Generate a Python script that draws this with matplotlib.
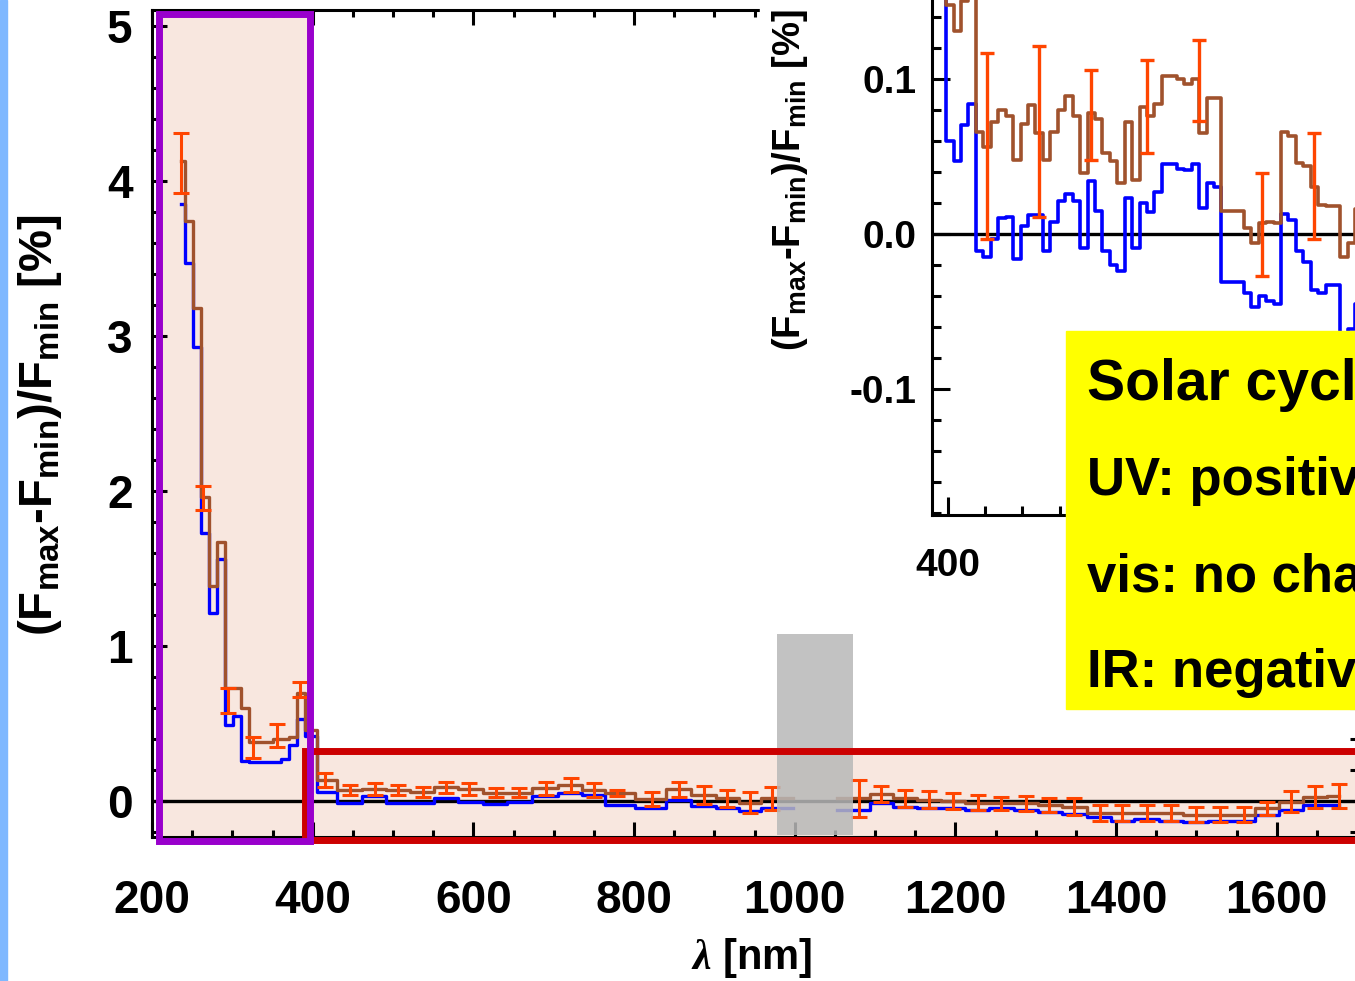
"""Solar cycle spectral irradiance variability: main spectrum plus zoomed inset."""
import numpy as np
import matplotlib
matplotlib.use("Agg")
import matplotlib.pyplot as plt
from matplotlib.patches import Rectangle
from matplotlib.ticker import MultipleLocator, FormatStrFormatter, FixedLocator, FixedFormatter

plt.rcParams["font.family"] = ["Liberation Sans", "DejaVu Sans"]
plt.rcParams["font.weight"] = "bold"
plt.rcParams["axes.unicode_minus"] = False
plt.rcParams["mathtext.fontset"] = "custom"
plt.rcParams["mathtext.rm"] = "Liberation Sans:bold"
plt.rcParams["mathtext.bf"] = "Liberation Sans:bold"
plt.rcParams["mathtext.it"] = "Liberation Serif:italic"

# ---- main panel: UV part (10 nm bins) ----
uv_wl = [236, 246, 256, 266, 276, 286, 296, 306, 316, 326, 336, 346, 356, 366, 376, 386, 396]
uv_brown = [4.13, 3.74, 3.18, 1.96, 1.39, 1.67, 0.73, 0.73, 0.60, 0.38, 0.38, 0.38, 0.40, 0.40, 0.41, 0.70, 0.46]
uv_blue = [3.85, 3.47, 2.93, 1.73, 1.21, 1.56, 0.49, 0.55, 0.26, 0.25, 0.25, 0.25, 0.25, 0.27, 0.36, 0.53, 0.42]
uv_err_wl = [236, 264, 294, 326, 356, 384]
uv_err_mid = [4.115, 1.955, 0.65, 0.345, 0.425, 0.72]
uv_err_half = [0.195, 0.075, 0.08, 0.065, 0.075, 0.05]

# ---- main panel: visible and IR (binned, error bars at every bin) ----
vis_wl = [415, 446, 477, 506, 537, 566, 595, 628, 657, 690, 721, 750, 779, 823, 856, 887, 916, 945, 972]
vis_brown = [0.135, 0.071, 0.078, 0.071, 0.06, 0.088, 0.077, 0.055, 0.055, 0.082, 0.103, 0.071,
             0.05, 0.012, 0.077, 0.04, 0.017, -0.01, 0.017]
vis_half = [0.043, 0.032, 0.04, 0.032, 0.032, 0.038, 0.038, 0.027, 0.027, 0.043, 0.043, 0.043,
            0.02, 0.045, 0.048, 0.06, 0.054, 0.07, 0.075]
vis_blue = [0.06, -0.01, 0.03, -0.015, -0.01, 0.02, -0.005, -0.02, -0.005, 0.03, 0.05, 0.04,
            -0.025, -0.045, 0.005, -0.035, -0.045, -0.065, -0.045]

ir_wl = [1080, 1107, 1137, 1167, 1197, 1228, 1257, 1288, 1317, 1348, 1380, 1408, 1438, 1468,
         1499, 1529, 1559, 1588, 1618, 1648, 1678]
ir_brown = [0.017, 0.045, 0.018, 0.007, 0.0, -0.01, -0.015, -0.015, -0.024, -0.037, -0.076, -0.076,
            -0.076, -0.076, -0.087, -0.087, -0.087, -0.048, -0.004, 0.024, 0.03]
ir_half = [0.12, 0.05, 0.055, 0.055, 0.05, 0.05, 0.044, 0.05, 0.046, 0.055, 0.05, 0.05, 0.05, 0.05,
           0.05, 0.05, 0.05, 0.045, 0.066, 0.07, 0.077]
ir_blue = [-0.06, -0.015, -0.037, -0.048, -0.048, -0.06, -0.048, -0.06, -0.07, -0.081, -0.104, -0.126,
           -0.115, -0.126, -0.137, -0.126, -0.13, -0.093, -0.06, -0.026, -0.026]

GAP_WL = 1025  # no data under the grey band

# ---- inset: 4 nm bins from 400 nm ----
inset_wl = [397, 401, 405, 409, 413, 417, 421, 425, 429, 433, 437, 441, 445, 449, 453, 457, 461, 465,
            469, 473, 477, 481, 485, 489, 493, 497, 501, 505, 509, 513, 517, 521, 525, 529, 533, 537,
            541, 545, 549, 553, 557, 561, 565, 569, 573, 577, 581, 585, 589, 593, 597, 601, 605, 609,
            613, 617, 621, 625]
inset_brown = [0.46, 0.148, 0.131, 0.150, 0.19, 0.066, 0.056, 0.072, 0.080, 0.076, 0.048, 0.071,
               0.083, 0.065, 0.048, 0.066, 0.080, 0.089, 0.076, 0.039, 0.078, 0.074, 0.052, 0.047,
               0.033, 0.072, 0.035, 0.082, 0.076, 0.084, 0.102, 0.102, 0.100, 0.097, 0.100, 0.065,
               0.088, 0.088, 0.015, 0.015, 0.015, 0.004, -0.006, 0.007, 0.008, 0.007, 0.066, 0.063,
               0.046, 0.044, 0.030, 0.019, 0.018, 0.018, -0.015, -0.006, 0.016, 0.02]
inset_blue = [0.42, 0.060, 0.047, 0.070, 0.084, -0.011, -0.015, -0.003, 0.010, 0.011, -0.016, 0.005,
              0.012, 0.012, -0.011, 0.008, 0.021, 0.026, 0.021, -0.009, 0.034, 0.015, -0.011, -0.020,
              -0.024, 0.023, -0.009, 0.020, 0.014, 0.027, 0.045, 0.045, 0.042, 0.041, 0.045, 0.017,
              0.033, 0.030, -0.031, -0.031, -0.031, -0.038, -0.047, -0.040, -0.043, -0.045, 0.013,
              0.009, -0.011, -0.018, -0.036, -0.038, -0.033, -0.033, -0.065, -0.061, -0.045, -0.05]
inset_err_wl = [421, 449, 477, 507, 535, 569, 597]
inset_err_mid = [0.057, 0.066, 0.077, 0.082, 0.099, 0.006, 0.031]
inset_err_half = [0.060, 0.055, 0.029, 0.030, 0.026, 0.033, 0.034]
inset_xticks = [400, 500, 600]
inset_xlabels = ["400", "", ""]  # the others sit under the summary box

summary_title = "Solar cycle:"
summary_lines = ["UV: positive", "vis: no change", "IR: negative"]

BLUE = "#0000FF"
BROWN = "#A0522D"
ORANGE = "#FF4500"
PURPLE = "#9900CC"
RED = "#CC0000"
STIPPLE = "#f8e7df"

W, H = 1355, 981


def fx(px):
    return px / W


def fy(py):
    return 1 - py / H


fig = plt.figure(figsize=(W / 100, H / 100), dpi=100)

# light blue slide edge
fig.add_artist(Rectangle((0, 0), fx(7), 1, transform=fig.transFigure, color="#7FB8FF", zorder=0))

ax = fig.add_axes([fx(152), fy(837), fx(1357) - fx(152), fy(10) - fy(837)], zorder=1)
ax.set_xlim(200, 1700)
ax.set_ylim(-0.232, 5.103)

# highlighted regions
ax.add_patch(Rectangle((390.5, -0.25), 1400, 0.57, facecolor=STIPPLE, edgecolor="none",
                       zorder=0.5, clip_on=False))
ax.add_patch(Rectangle((209, -0.26), 188, 5.34, facecolor=STIPPLE, edgecolor="none",
                       zorder=0.6, clip_on=False))
ax.axhline(0, color="k", lw=2.4, zorder=1)

wl = np.array(uv_wl + vis_wl + [GAP_WL] + ir_wl, dtype=float)
brown = np.array(uv_brown + vis_brown + [np.nan] + ir_brown)
blue = np.array(uv_blue + vis_blue + [np.nan] + ir_blue)
ax.step(wl, blue, where="mid", color=BLUE, lw=2.4, zorder=2)
ax.step(wl, brown, where="mid", color=BROWN, lw=2.4, zorder=3)
ax.errorbar(uv_err_wl + vis_wl + ir_wl, uv_err_mid + vis_brown + ir_brown,
            yerr=uv_err_half + vis_half + ir_half, fmt="none", ecolor=ORANGE,
            elinewidth=2.2, capsize=6, capthick=2.2, zorder=4)

ax.add_patch(Rectangle((978, -0.22), 94, 1.30, facecolor="#b8b8b8", alpha=0.85,
                       edgecolor="none", zorder=4.5, clip_on=False))
ax.add_patch(Rectangle((390.5, -0.25), 1400, 0.57, fill=False, edgecolor=RED, lw=5,
                       zorder=6, clip_on=False))
ax.add_patch(Rectangle((209, -0.26), 188, 5.34, fill=False, edgecolor=PURPLE, lw=5,
                       zorder=7, clip_on=False))

ax.xaxis.set_major_locator(MultipleLocator(200))
ax.xaxis.set_minor_locator(MultipleLocator(50))
ax.yaxis.set_major_locator(MultipleLocator(1))
ax.yaxis.set_minor_locator(MultipleLocator(0.2))
ax.tick_params(which="both", direction="in", top=True, right=True, width=2.2, labelsize=33)
ax.tick_params(which="major", length=11)
ax.tick_params(which="minor", length=5)
ax.tick_params(axis="x", pad=30)
ax.tick_params(axis="y", pad=14)
for s in ax.spines.values():
    s.set_linewidth(2.2)

fig.text(fx(40), fy(425), r"$\mathrm{(F_{max}}$-$\mathrm{F_{min})/F_{min}}$ [%]",
         rotation=90, ha="center", va="center", fontsize=34)
fig.text(fx(752), fy(958), r"$\lambda$ [nm]", ha="center", va="center", fontsize=30)

# ---- inset ----
fig.add_artist(Rectangle((fx(760), fy(610)), 1, 1, transform=fig.transFigure,
                         color="white", zorder=2))
ins = fig.add_axes([fx(932), fy(515), fx(1360) - fx(932), fy(-15) - fy(515)], zorder=3)
ins.patch.set_alpha(0)
ins.set_xlim(391.4, 621.5)
ins.set_ylim(-0.1813, 0.1606)
ins.axhline(0, color="k", lw=2.4, zorder=1)
ins.step(inset_wl, inset_blue, where="mid", color=BLUE, lw=2.6, zorder=2)
ins.step(inset_wl, inset_brown, where="mid", color=BROWN, lw=2.6, zorder=3)
ins.errorbar(inset_err_wl, inset_err_mid, yerr=inset_err_half, fmt="none", ecolor=ORANGE,
             elinewidth=2.4, capsize=4.7, capthick=2.4, zorder=4)
ins.xaxis.set_major_locator(FixedLocator(inset_xticks))
ins.xaxis.set_major_formatter(FixedFormatter(inset_xlabels))
ins.xaxis.set_minor_locator(MultipleLocator(20))
ins.yaxis.set_major_locator(MultipleLocator(0.1))
ins.yaxis.set_minor_locator(MultipleLocator(0.02))
ins.yaxis.set_major_formatter(FormatStrFormatter("%.1f"))
ins.tick_params(which="both", direction="in", width=2.2, labelsize=28)
ins.tick_params(which="major", length=13)
ins.tick_params(which="minor", length=6.5)
ins.tick_params(axis="x", pad=24)
ins.tick_params(axis="y", pad=11)
for s in ins.spines.values():
    s.set_linewidth(2.2)
fig.text(fx(790), fy(180), r"$\mathrm{(F_{max}}$-$\mathrm{F_{min})/F_{min}}$ [%]",
         rotation=90, ha="center", va="center", fontsize=27.5, zorder=3)

# ---- summary box ----
fig.add_artist(Rectangle((fx(1066), fy(709)), 1, fy(331) - fy(709), transform=fig.transFigure,
                         color="#FFFF00", zorder=4))
fig.text(fx(1087), fy(400), summary_title, fontsize=41, va="baseline", zorder=5)
for line, base in zip(summary_lines, [495, 592, 687]):
    fig.text(fx(1087), fy(base), line, fontsize=38, va="baseline", zorder=5)

fig.savefig("out.png", dpi=100)
